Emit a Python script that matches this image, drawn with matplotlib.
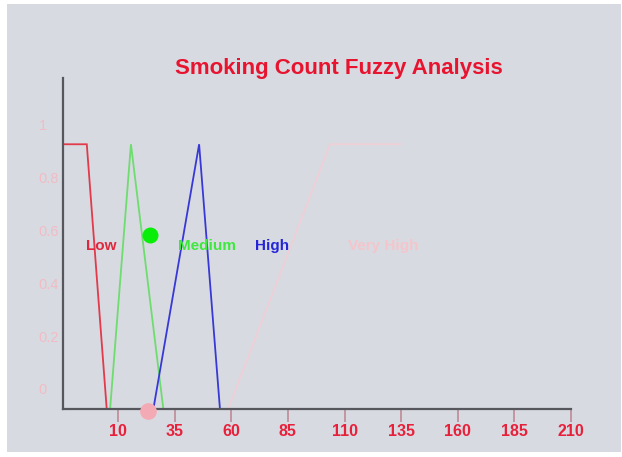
import matplotlib
matplotlib.use("Agg")
import matplotlib.pyplot as plt
from matplotlib.patches import Rectangle

# ---- data (read in axis-label units) ----
low_x = [-14.3, -3.8, 5.0]
low_y = [0.927, 0.927, -0.076]
med_x = [6.5, 15.7, 30.0]
med_y = [-0.076, 0.927, -0.076]
high_x = [25.6, 45.8, 55.0]
high_y = [-0.076, 0.927, -0.076]
vhigh_x = [58.6, 103.6, 134.5]
vhigh_y = [-0.076, 0.927, 0.927]

set_names = ["Low", "Medium", "High", "Very High"]
label_x = [2.6, 49.3, 78.0, 127.0]
label_y = 0.527

point_x = 24.0
point_y = 0.583
input_x = 23.3
input_y = -0.085

xtick_vals = [10, 35, 60, 85, 110, 135, 160, 185, 210]
ytick_vals = [0, 0.2, 0.4, 0.6, 0.8, 1]
ytick_labels = ["0", "0.2", "0.4", "0.6", "0.8", "1"]

title = "Smoking Count Fuzzy Analysis"

# ---- figure ----
W, H = 622, 457
fig = plt.figure(figsize=(W / 100, H / 100), dpi=100, facecolor="white")
bg = Rectangle((7 / W, 5 / H), 614 / W, 448 / H, transform=fig.transFigure,
               facecolor="#d7dae1", edgecolor="none", zorder=-10)
fig.add_artist(bg)

ax = fig.add_axes([63 / W, 1 - 409 / H, (571 - 63) / W, (409 - 78) / H])
ax.set_zorder(5)
ax.set_facecolor("none")
ax.set_xlim(-14.3, 210)
ax.set_ylim(-0.076, 1.178)

for s in ["top", "right"]:
    ax.spines[s].set_visible(False)
for s in ["left", "bottom"]:
    ax.spines[s].set_color("#55575c")
    ax.spines[s].set_linewidth(1.6)

font = "Liberation Sans"
colors = ["#e23a4a", "#6fdc6f", "#3838d6", "#f0cfd6"]
series = [(low_x, low_y), (med_x, med_y), (high_x, high_y), (vhigh_x, vhigh_y)]
for (xs, ys), c in zip(series, colors):
    ax.plot(xs, ys, color=c, lw=1.3, clip_on=False, solid_joinstyle="miter")

text_colors = ["#e0283c", "#3ee83e", "#2424d8", "#f4c6cc"]
for name, lx, c in zip(set_names, label_x, text_colors):
    ax.text(lx, label_y, name, color=c, fontsize=11, fontweight="bold", family=font,
            ha="center", va="baseline")

ax.plot([point_x], [point_y], "o", color="#08ee08", markersize=11.5, mec="none", clip_on=False)
ax.plot([input_x], [input_y], "o", color="#f4aab4", markersize=12, mec="none", clip_on=False, zorder=5)

ax.set_xticks(xtick_vals)
ax.set_xticklabels([str(v) for v in xtick_vals], color="#e8203a", fontsize=11.5,
                   fontweight="bold", family=font)
ax.tick_params(axis="x", length=9, width=1.2, color="#c08a96", pad=2)

ax.set_yticks(ytick_vals)
ax.set_yticklabels(ytick_labels, color="#f2bcc4", fontsize=10.5, family=font)
ax.tick_params(axis="y", length=0, pad=17.5)
for t in ax.get_yticklabels():
    t.set_horizontalalignment("left")

fig.text(339 / W, 1 - 74 / H, title, color="#e8132e", fontsize=16, fontweight="bold",
         family=font, ha="center", va="baseline")

fig.savefig("out.png", dpi=100, facecolor="white")
